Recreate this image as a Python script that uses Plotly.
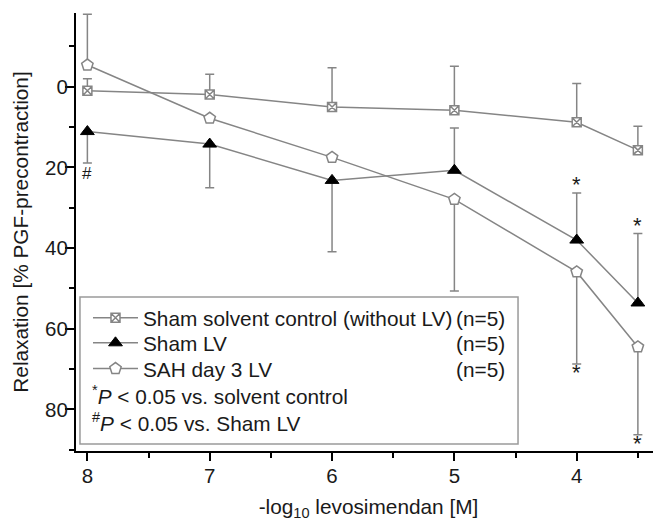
import plotly.graph_objects as go

# ---------------- data ----------------
conc = [8, 7, 6, 5, 4, 3.5]

series_names = ["Sham solvent control (without LV)", "Sham LV", "SAH day 3 LV"]
n_values = [5, 5, 5]

solvent_mean = [1.0, 1.9, 5.0, 5.8, 8.8, 15.7]
solvent_err_plus = [0, 0, 0, 0, 0, 0]
solvent_err_minus = [3.0, 5.0, 9.7, 10.9, 9.6, 5.9]
solvent_marks = ["", "", "", "", "", ""]

shamlv_mean = [11.1, 14.2, 23.2, 20.7, 38.0, 53.6]
shamlv_err_plus = [7.8, 10.8, 17.7, 0, 0, 0]
shamlv_err_minus = [0, 0, 0, 10.5, 11.7, 17.2]
shamlv_marks = ["#", "", "", "", "*", "*"]

sah_mean = [-5.4, 7.8, 17.5, 27.9, 45.9, 64.5]
sah_err_plus = [0, 0, 0, 22.7, 22.8, 21.8]
sah_err_minus = [12.6, 0, 0, 0, 0, 0]
sah_marks = ["", "", "", "", "*", "*"]

y_ticks = [0, 20, 40, 60, 80]
x_ticks = [8, 7, 6, 5, 4]

footnotes = ["<sup>*</sup><i>P</i> &lt; 0.05 vs. solvent control",
             "<sup>#</sup><i>P</i> &lt; 0.05 vs. Sham LV"]

# ---------------- style ----------------
FONT = "Liberation Sans, Arial, sans-serif"
GRAY = "#858585"
TXT = "#1a1a1a"

fig = go.Figure()

styles = [
    dict(symbol="square-x", size=9, color="white", line=dict(color=GRAY, width=1.5)),
    dict(symbol="triangle-up", size=12, color="black", line=dict(color="black", width=1)),
    dict(symbol="pentagon", size=12, color="white", line=dict(color=GRAY, width=1.5)),
]
data = [
    (solvent_mean, solvent_err_plus, solvent_err_minus, solvent_marks),
    (shamlv_mean, shamlv_err_plus, shamlv_err_minus, shamlv_marks),
    (sah_mean, sah_err_plus, sah_err_minus, sah_marks),
]
legends = ["legend", "legend2", "legend3"]

for i, (name, (m, ep, em, marks)) in enumerate(zip(series_names, data)):
    fig.add_trace(go.Scatter(
        x=conc, y=m, name=name, mode="lines+markers",
        line=dict(color=GRAY, width=1.5),
        marker=styles[i],
        error_y=dict(type="data", symmetric=False, array=ep, arrayminus=em,
                     color=GRAY, thickness=1.5, width=4.5),
        legend=legends[i],
    ))
    for x, y, a, b, mk in zip(conc, m, ep, em, marks):
        if not mk:
            continue
        if a > 0:
            yy, shift = y + a, (-10 if mk == "#" else -9)
        else:
            yy, shift = y - b, 8
        fig.add_annotation(x=x, y=yy, text=mk, showarrow=False,
                           yshift=shift, yanchor="middle",
                           font=dict(family=FONT, size=17 if mk == "#" else 22, color=TXT))

# legend box
fig.add_shape(type="rect", xref="paper", yref="paper",
              x0=0.0068, x1=0.7556, y0=0.016, y1=0.3516,
              line=dict(color="#9a9a9a", width=1.5), fillcolor="white", layer="below")

row_y = [0.3030, 0.2459, 0.1872]
leg_cfg = {}
for i, lg in enumerate(legends):
    leg_cfg[lg] = dict(x=0.0205, y=row_y[i], xanchor="left", yanchor="middle",
                       bgcolor="rgba(0,0,0,0)", borderwidth=0, itemwidth=45,
                       font=dict(family=FONT, size=20.8, color=TXT))
    fig.add_annotation(xref="paper", yref="paper", x=0.7368, y=row_y[i],
                       xanchor="right", yanchor="middle", showarrow=False,
                       text=f"(n={n_values[i]})",
                       font=dict(family=FONT, size=20.8, color=TXT))

foot_y = [0.1279, 0.0669]
for t, yy in zip(footnotes, foot_y):
    fig.add_annotation(xref="paper", yref="paper", x=0.0235, y=yy,
                       xanchor="left", yanchor="middle", showarrow=False, text=t,
                       font=dict(family=FONT, size=20.8, color=TXT))

# the page adds an 8px body margin, so the figure is offset by 8px
fig.update_layout(
    width=653, height=513,
    margin=dict(l=68, r=0, t=5, b=70),
    paper_bgcolor="white", plot_bgcolor="white",
    showlegend=True,
    font=dict(family=FONT, color=TXT),
    **leg_cfg,
)

fig.update_xaxes(
    range=[8.093, 3.311], tickvals=x_ticks,
    showline=True, linecolor="black", linewidth=2, mirror=False,
    ticks="outside", ticklen=8, tickwidth=2, tickcolor="black",
    minor=dict(dtick=0.5, tick0=0, ticks="outside", ticklen=5, tickwidth=2, tickcolor="black"),
    showgrid=False, zeroline=False, ticklabelstandoff=-3,
    tickfont=dict(family=FONT, size=20.5, color=TXT),
    title=dict(text="-log<sub>10</sub> levosimendan [M]",
               font=dict(family=FONT, size=20.8, color=TXT), standoff=19),
)
fig.update_yaxes(
    range=[90.3, -18.3], tickvals=y_ticks,
    showline=True, linecolor="black", linewidth=2, mirror=False,
    ticks="outside", ticklen=9, tickwidth=2, tickcolor="black",
    minor=dict(dtick=10, tick0=0, ticks="outside", ticklen=5, tickwidth=2, tickcolor="black"),
    showgrid=False, zeroline=False, ticklabelstandoff=-7,
    tickfont=dict(family=FONT, size=20.5, color=TXT),
    title=dict(text="Relaxation [% PGF-precontraction]",
               font=dict(family=FONT, size=20.8, color=TXT), standoff=11),
)

fig.write_html("out.html")
